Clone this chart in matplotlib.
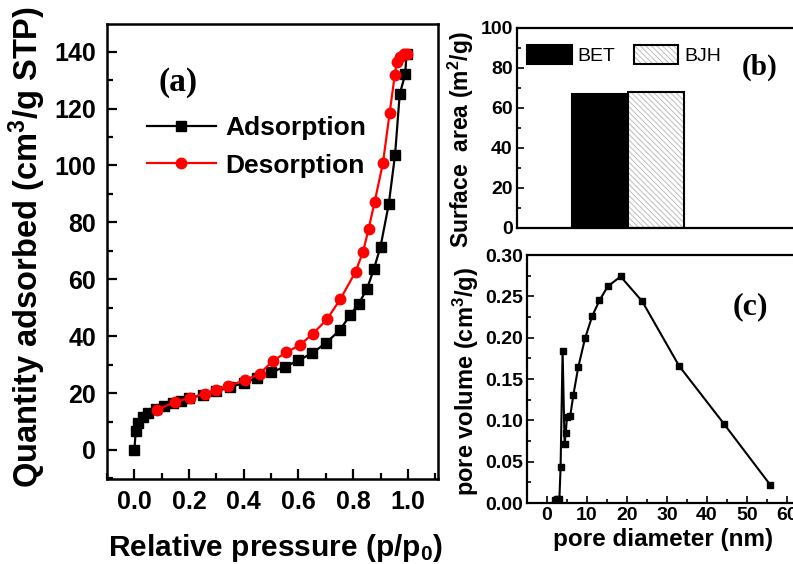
import matplotlib
matplotlib.use("Agg")
import matplotlib.pyplot as plt
from matplotlib.patches import Patch
from matplotlib.lines import Line2D
from matplotlib.ticker import MultipleLocator

plt.rcParams['font.family'] = ['Liberation Sans', 'DejaVu Sans']
plt.rcParams['mathtext.fontset'] = 'custom'
plt.rcParams['mathtext.rm'] = 'Liberation Sans:bold'
plt.rcParams['mathtext.bf'] = 'Liberation Sans:bold'
plt.rcParams['mathtext.default'] = 'bf'
plt.rcParams['hatch.linewidth'] = 0.6

# (a) N2 adsorption / desorption isotherm
ads_p = [0.0, 0.005, 0.012, 0.03, 0.05, 0.08, 0.11, 0.14, 0.17, 0.20, 0.25, 0.30,
         0.35, 0.40, 0.45, 0.50, 0.55, 0.60, 0.65, 0.70, 0.75, 0.79, 0.82, 0.85,
         0.876, 0.90, 0.93, 0.953, 0.97, 0.99, 0.995]
ads_q = [0.0, 6.5, 9.4, 11.7, 13.1, 14.4, 15.5, 16.4, 17.3, 18.1, 19.4, 20.7,
         22.0, 23.6, 25.4, 27.3, 29.2, 31.5, 34.0, 37.6, 42.0, 47.5, 51.4, 56.5,
         63.7, 71.5, 86.4, 103.7, 125.0, 132.0, 139.2]
des_p = [0.995, 0.985, 0.972, 0.960, 0.952, 0.933, 0.909, 0.878, 0.856, 0.836,
         0.809, 0.753, 0.704, 0.653, 0.604, 0.555, 0.506, 0.458, 0.404, 0.342,
         0.300, 0.257, 0.205, 0.150, 0.083]
des_q = [139.2, 139.2, 138.2, 136.5, 131.8, 118.3, 101.0, 87.0, 77.5, 69.7,
         62.7, 53.0, 45.9, 40.9, 36.8, 34.3, 31.3, 26.8, 24.5, 22.5,
         21.1, 19.8, 18.4, 16.9, 14.2]

# (b) surface areas
area_methods = ['BET', 'BJH']
area_values = [67.1, 67.8]

# (c) BJH pore size distribution
pore_d = [1.9, 2.5, 3.1, 3.4, 3.9, 4.4, 4.7, 5.0, 5.8, 6.6, 7.8, 9.5, 11.3,
          13.1, 15.2, 18.4, 23.8, 33.0, 44.2, 55.8]
pore_v = [0.004, 0.005, 0.005, 0.044, 0.184, 0.071, 0.085, 0.104, 0.105, 0.131,
          0.164, 0.199, 0.226, 0.245, 0.262, 0.274, 0.244, 0.166, 0.096, 0.022]

W, H = 793, 564
fig = plt.figure(figsize=(W / 100, H / 100), dpi=100)

HATCH = '\\' * 6
HATCH_COLOR = '#b4b4b4'


def px_axes(left, top, right, bottom):
    return fig.add_axes([left / W, 1 - bottom / H, (right - left) / W, (bottom - top) / H])


def style_ticks(ax, size, pad, major_len, minor_len, width):
    ax.tick_params(which='both', direction='in', top=False, right=False,
                   width=width, labelsize=size, pad=pad)
    ax.tick_params(which='major', length=major_len)
    ax.tick_params(which='minor', length=minor_len)
    for lab in ax.get_xticklabels() + ax.get_yticklabels():
        lab.set_fontweight('bold')


# ---------------- panel (a) ----------------
axa = px_axes(107, 24, 438, 479)
axa.plot(ads_p, ads_q, color='black', marker='s', markersize=6.5, lw=1.6)
axa.plot(des_p, des_q, color='#ff0000', marker='o', markersize=7.5, lw=1.6)
axa.set_xlim(-0.1, 1.11)
axa.set_ylim(-10.2, 149.7)
axa.xaxis.set_major_locator(MultipleLocator(0.2))
axa.xaxis.set_minor_locator(MultipleLocator(0.1))
axa.yaxis.set_major_locator(MultipleLocator(20))
axa.yaxis.set_minor_locator(MultipleLocator(10))
axa.set_xticks([0.0, 0.2, 0.4, 0.6, 0.8, 1.0])
axa.set_yticks([0, 20, 40, 60, 80, 100, 120, 140])
style_ticks(axa, 18, 8, 7, 4, 1.6)
for s in axa.spines.values():
    s.set_linewidth(1.8)
axa.set_xlabel('Relative pressure (p/p$_0$)', fontsize=21.5, fontweight='bold')
axa.xaxis.set_label_coords(0.51, -0.117)
axa.set_ylabel('Quantity adsorbed (cm$^3$/g STP)', fontsize=23.5, fontweight='bold')
axa.yaxis.set_label_coords(-0.178, 0.51)
axa.text(0.2145, 0.8725, '(a)', transform=axa.transAxes, fontsize=24,
         fontweight='bold', family='Liberation Serif', ha='center', va='center')
handles_a = [Line2D([], [], color='black', marker='s', markersize=6.5, lw=1.6),
             Line2D([], [], color='#ff0000', marker='o', markersize=7.5, lw=1.6)]
leg = axa.legend(handles_a, ['Adsorption', 'Desorption'], loc='upper left',
                 bbox_to_anchor=(0.121, 0.797), frameon=False, numpoints=1,
                 prop={'family': 'Liberation Sans', 'weight': 'bold', 'size': 19},
                 handlelength=2.6, handletextpad=0.35, labelspacing=0.5,
                 borderpad=0, borderaxespad=0)

# ---------------- panel (b) ----------------
axb = px_axes(517, 28, 807, 228)
bar_pos = [1, 2]
axb.bar(bar_pos[0], area_values[0], width=1.0, color='black', edgecolor='black', lw=1.5)
axb.bar(bar_pos[1], area_values[1], width=1.0, color='white', edgecolor=HATCH_COLOR,
        hatch=HATCH, lw=0)
axb.bar(bar_pos[1], area_values[1], width=1.0, fill=False, edgecolor='black', lw=1.5)
axb.set_xlim(-0.48, 4.7)
axb.set_ylim(0, 100)
axb.set_xticks([])
axb.yaxis.set_major_locator(MultipleLocator(20))
axb.yaxis.set_minor_locator(MultipleLocator(10))
style_ticks(axb, 14, 3, 5, 3, 1.2)
for s in axb.spines.values():
    s.set_linewidth(1.6)
axb.set_ylabel('Surface  area (m$^2$/g)', fontsize=16.5, fontweight='bold')
axb.yaxis.set_label_coords(-0.14, 0.44)
axb.text(0.838, 0.805, '(b)', transform=axb.transAxes, fontsize=21,
         fontweight='bold', family='Liberation Serif', ha='center', va='center')
bet_h = Patch(facecolor='black', edgecolor='black', lw=1.5)
bjh_h = (Patch(facecolor='white', edgecolor=HATCH_COLOR, hatch=HATCH, lw=0),
         Patch(fill=False, edgecolor='black', lw=1.5))
axb.legend([bet_h, bjh_h], area_methods, loc='upper left', ncol=2,
           bbox_to_anchor=(0.034, 0.915), frameon=False,
           prop={'family': 'Liberation Sans', 'size': 14},
           handlelength=2.3, handleheight=1.15, handletextpad=0.3,
           columnspacing=0.95, borderpad=0, borderaxespad=0)

# ---------------- panel (c) ----------------
axc = px_axes(527, 255, 807, 503)
axc.plot(pore_d, pore_v, color='black', marker='s', markersize=5, lw=1.5)
axc.set_xlim(-5, 65)
axc.set_ylim(0, 0.30)
axc.xaxis.set_major_locator(MultipleLocator(10))
axc.xaxis.set_minor_locator(MultipleLocator(5))
axc.yaxis.set_major_locator(MultipleLocator(0.05))
axc.yaxis.set_minor_locator(MultipleLocator(0.025))
axc.set_yticks([0.0, 0.05, 0.10, 0.15, 0.20, 0.25, 0.30])
axc.set_yticklabels(['0.00', '0.05', '0.10', '0.15', '0.20', '0.25', '0.30'])
style_ticks(axc, 14, 3, 5, 3, 1.2)
for s in axc.spines.values():
    s.set_linewidth(1.6)
axc.set_xlabel('pore diameter (nm)', fontsize=17.5, fontweight='bold')
axc.xaxis.set_label_coords(0.485, -0.1)
axc.set_ylabel('pore volume (cm$^3$/g)', fontsize=17, fontweight='bold')
axc.yaxis.set_label_coords(-0.165, 0.49)
axc.text(0.796, 0.79, '(c)', transform=axc.transAxes, fontsize=23,
         fontweight='bold', family='Liberation Serif', ha='center', va='center')

fig.savefig('out.png', dpi=100)
